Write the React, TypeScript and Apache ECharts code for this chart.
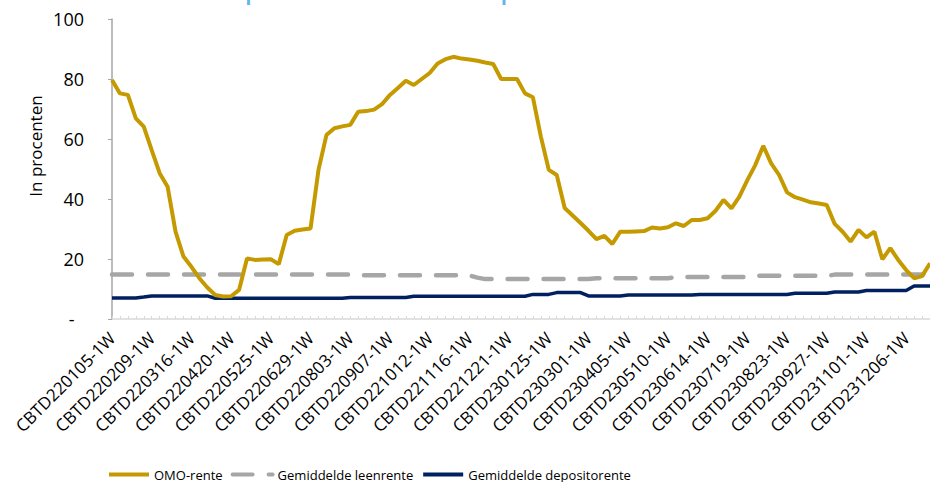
import React, { useEffect, useRef } from "react";
import * as echarts from "echarts";

const FONT = "Open Sans";

const weeks = [
  "220105", "220112", "220119", "220126", "220202", "220209", "220216", "220223", "220302", "220309",
  "220316", "220323", "220330", "220406", "220413", "220420", "220427", "220504", "220511", "220518",
  "220525", "220601", "220608", "220615", "220622", "220629", "220706", "220713", "220720", "220727",
  "220803", "220810", "220817", "220824", "220831", "220907", "220914", "220921", "220928", "221005",
  "221012", "221019", "221026", "221102", "221109", "221116", "221123", "221130", "221207", "221214",
  "221221", "221228", "230104", "230111", "230118", "230125", "230201", "230208", "230215", "230222",
  "230301", "230308", "230315", "230322", "230329", "230405", "230412", "230419", "230426", "230503",
  "230510", "230517", "230524", "230531", "230607", "230614", "230621", "230628", "230705", "230712",
  "230719", "230726", "230802", "230809", "230816", "230823", "230830", "230906", "230913", "230920",
  "230927", "231004", "231011", "231018", "231025", "231101", "231108", "231115", "231122", "231129",
  "231206", "231213", "231220", "231227",
];
const categories = weeks.map((w) => `CBTD${w}-1W`);

const omoRente = [
  79.7, 75.2, 74.7, 66.9, 64.1, 56.3, 48.6, 44.1, 29.1, 20.8,
  17.4, 13.6, 10.5, 8.0, 7.5, 7.6, 9.7, 20.2, 19.7, 19.8,
  19.9, 18.3, 28.0, 29.4, 29.8, 30.2, 49.7, 61.3, 63.6, 64.2,
  64.7, 69.1, 69.3, 69.8, 71.6, 74.7, 77.0, 79.4, 78.0, 80.0,
  82.0, 85.2, 86.6, 87.4, 86.8, 86.5, 86.1, 85.5, 85.0, 80.0,
  80.0, 80.0, 75.2, 73.9, 60.8, 49.7, 48.0, 37.0, 34.5, 32.0,
  29.4, 26.6, 27.7, 25.0, 29.1, 29.1, 29.2, 29.3, 30.5, 30.2,
  30.6, 31.9, 31.0, 33.0, 33.0, 33.6, 36.1, 39.7, 36.9, 40.8,
  46.3, 51.3, 57.7, 51.9, 48.0, 42.2, 40.6, 39.8, 38.9, 38.5,
  38.0, 31.7, 29.1, 25.8, 29.7, 27.2, 29.1, 19.9, 23.6, 19.7,
  16.3, 13.6, 14.3, 18.6,
];

const leenRente = [
  14.8, 14.8, 14.8, 14.8, 14.8, 14.8, 14.8, 14.8, 14.8, 14.8,
  14.8, 14.8, 14.8, 14.8, 14.8, 14.8, 14.8, 14.8, 14.8, 14.8,
  14.8, 14.8, 14.8, 14.8, 14.8, 14.8, 14.8, 14.8, 14.8, 14.8,
  14.8, 14.6, 14.6, 14.6, 14.6, 14.6, 14.6, 14.6, 14.6, 14.6,
  14.6, 14.6, 14.6, 14.6, 14.6, 14.5, 13.8, 13.3, 13.3, 13.3,
  13.3, 13.3, 13.3, 13.3, 13.3, 13.3, 13.3, 13.3, 13.3, 13.3,
  13.3, 13.6, 13.6, 13.6, 13.6, 13.6, 13.6, 13.6, 13.6, 13.6,
  13.6, 14.0, 14.0, 14.0, 14.0, 14.0, 14.0, 14.0, 14.0, 14.0,
  14.0, 14.4, 14.4, 14.4, 14.4, 14.4, 14.4, 14.4, 14.4, 14.4,
  14.4, 14.8, 14.8, 14.8, 14.8, 14.8, 14.8, 14.8, 14.8, 14.8,
  14.8, 14.8, 14.8, 14.8,
];

const depositoRente = [
  7.0, 7.0, 7.0, 7.0, 7.3, 7.7, 7.7, 7.7, 7.7, 7.7,
  7.7, 7.7, 7.7, 6.9, 6.9, 6.9, 6.9, 6.9, 6.9, 6.9,
  6.9, 6.9, 6.9, 6.9, 6.9, 6.9, 6.9, 6.9, 6.9, 6.9,
  7.2, 7.2, 7.2, 7.2, 7.2, 7.2, 7.2, 7.2, 7.6, 7.6,
  7.6, 7.6, 7.6, 7.6, 7.6, 7.6, 7.6, 7.6, 7.6, 7.6,
  7.6, 7.6, 7.6, 8.2, 8.2, 8.2, 8.8, 8.8, 8.8, 8.8,
  7.7, 7.7, 7.7, 7.7, 7.7, 8.0, 8.0, 8.0, 8.0, 8.0,
  8.0, 8.0, 8.0, 8.0, 8.2, 8.2, 8.2, 8.2, 8.2, 8.2,
  8.2, 8.2, 8.2, 8.2, 8.2, 8.2, 8.6, 8.6, 8.6, 8.6,
  8.6, 9.0, 9.0, 9.0, 9.0, 9.5, 9.5, 9.5, 9.5, 9.5,
  9.5, 11.0, 11.0, 11.0,
];

const seriesNames = ["OMO-rente", "Gemiddelde leenrente", "Gemiddelde depositorente"];
const titleText = "Depositorente en OMO-rente per CBTD-emissie 1W";
const yAxisName = "In procenten";

export default function App() {
  const ref = useRef<HTMLDivElement>(null);
  useEffect(() => {
    const chart = echarts.init(ref.current as HTMLDivElement, null, { renderer: "svg" });
    chart.setOption({
      animation: false,
      backgroundColor: "#ffffff",
      textStyle: { fontFamily: FONT },
      grid: { left: 112, right: 0, top: 19, bottom: 163, containLabel: false },
      graphic: [
        {
          type: "text",
          x: 460,
          y: 2.5,
          silent: true,
          style: {
            text: titleText,
            fontSize: 19,
            fontWeight: "bold",
            fontFamily: FONT,
            fill: "#5DB7E8",
            textAlign: "center",
            textVerticalAlign: "bottom",
          },
        },
        {
          type: "text",
          x: 35,
          y: 146,
          rotation: Math.PI / 2,
          silent: true,
          style: {
            text: yAxisName,
            fontSize: 17,
            fontFamily: FONT,
            fill: "#000000",
            textAlign: "center",
            textVerticalAlign: "middle",
          },
        },
      ],
      legend: {
        left: 102,
        top: 463,
        itemWidth: 40,
        itemHeight: 10,
        itemGap: 8,
        data: seriesNames,
        itemStyle: { opacity: 0, borderWidth: 0 },
        lineStyle: { width: 4 },
        textStyle: { fontSize: 13, color: "#000000", fontFamily: FONT },
      },
      xAxis: {
        type: "category",
        data: categories,
        boundaryGap: false,
        axisLine: { show: true, lineStyle: { color: "#d9d9d9", width: 1.5 } },
        axisTick: { show: true, inside: true, length: 3, interval: 0, lineStyle: { color: "#d9d9d9" } },
        axisLabel: {
          interval: 4,
          rotate: 45,
          fontSize: 17,
          color: "#000000",
          fontFamily: FONT,
          margin: 16,
        },
        splitLine: { show: false },
      },
      yAxis: {
        type: "value",
        min: 0,
        max: 100,
        interval: 20,
        axisLine: { show: true, lineStyle: { color: "#a6a6a6", width: 1.5 } },
        axisTick: { show: true, length: 4, lineStyle: { color: "#a6a6a6" } },
        splitLine: { show: false },
        axisLabel: {
          fontSize: 18,
          color: "#000000",
          fontFamily: FONT,
          margin: 28,
          formatter: (v: number) => (v === 0 ? "-  " : String(v)),
        },
      },
      series: [
        {
          name: seriesNames[2],
          type: "line",
          data: depositoRente,
          symbol: "none",
          lineStyle: { color: "#002060", width: 3.5 },
          itemStyle: { color: "#002060" },
        },
        {
          name: seriesNames[1],
          type: "line",
          data: leenRente,
          symbol: "none",
          lineStyle: { color: "#a6a6a6", width: 4.5, type: [20, 16], cap: "round" },
          itemStyle: { color: "#a6a6a6" },
        },
        {
          name: seriesNames[0],
          type: "line",
          data: omoRente,
          symbol: "none",
          lineStyle: { color: "#C49A00", width: 4 },
          itemStyle: { color: "#C49A00" },
        },
      ],
    });
    return () => chart.dispose();
  }, []);
  return (
    <div
      ref={ref}
      style={{ width: 930, height: 482, position: "absolute", left: 0, top: 0 }}
    />
  );
}
